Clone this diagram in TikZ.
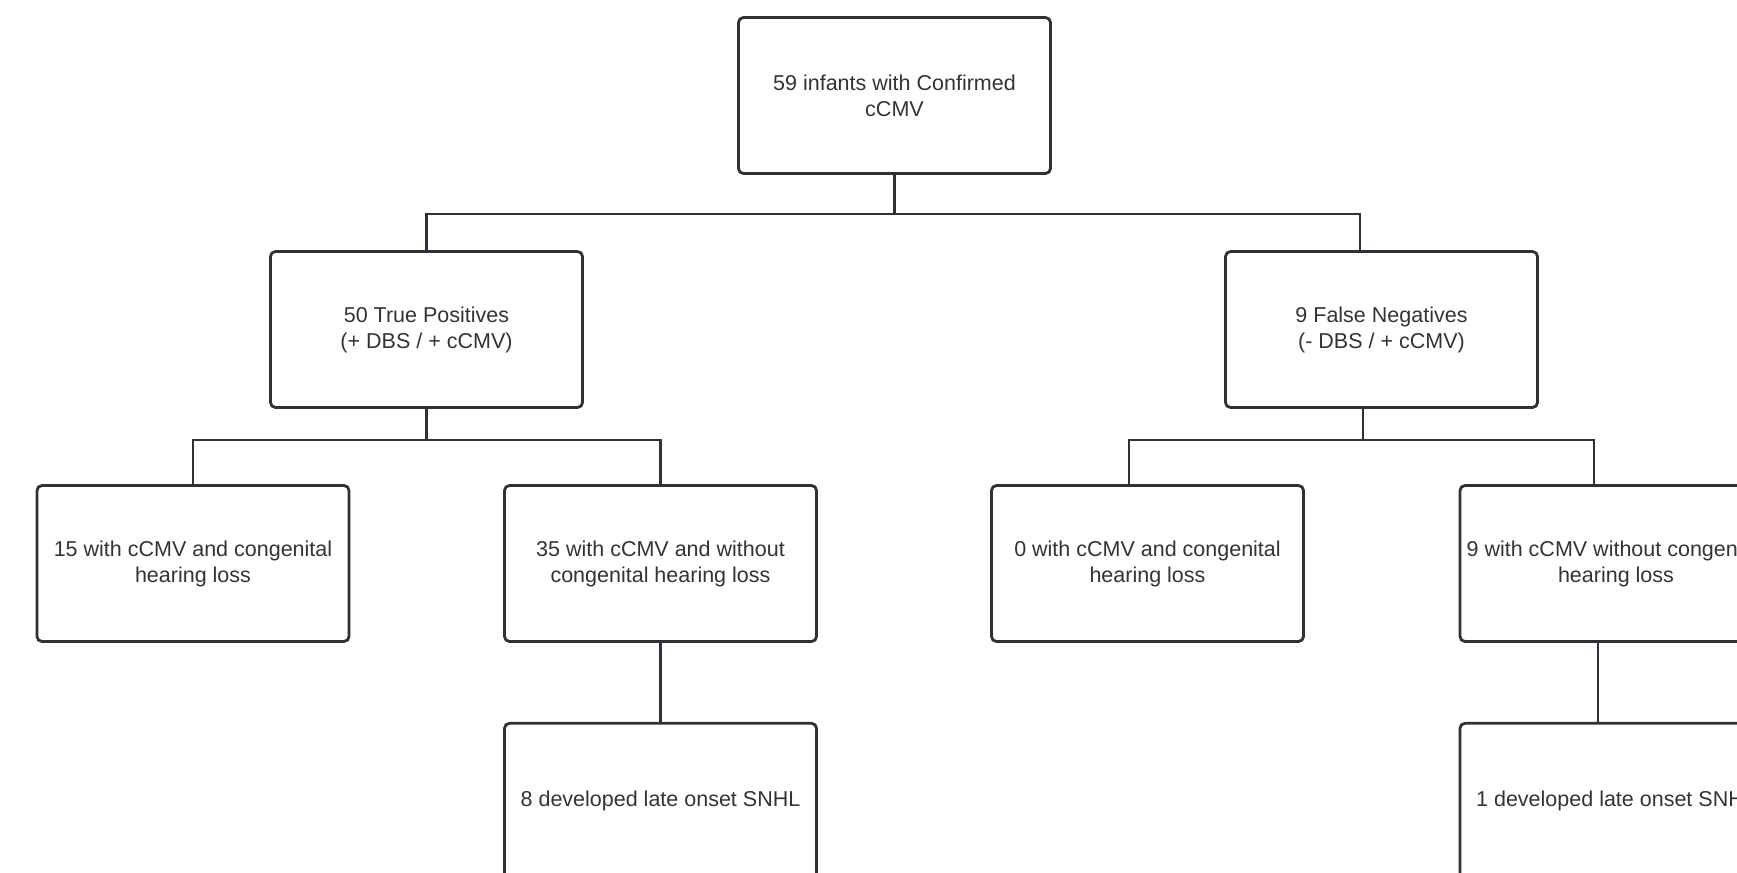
\documentclass[tikz,border=0pt]{standalone}
\usepackage{fontspec}
\setmainfont{Liberation Sans}
\usetikzlibrary{positioning}
\definecolor{cLine}{RGB}{46,49,56}
\definecolor{cText}{RGB}{51,51,51}
\tikzset{
	box/.style ={rectangle, rounded corners=2.5pt, draw=cLine, line width=1.4pt, minimum width=156pt, minimum height=78pt, align=center, text=cText, inner sep=0pt, font=\fontsize{10.75}{13}\selectfont},
	link/.style={draw=cLine, line width=1.4pt},
}
\begin{document}
\begin{tikzpicture}[x=0.5pt, y=-0.5pt]
			\useasboundingbox (0,0) rectangle (1737,873);
			% boxes
			\node[box] (root) at (894.5,95.5) {59 infants with Confirmed\\ cCMV};
			\node[box] (tp) at (426.5,329.5) {50 True Positives\\ (+ DBS / + cCMV)};
			\node[box] (fn) at (1381.5,329.5) {9 False Negatives\\ (- DBS / + cCMV)};
			\node[box] (tpA) at (193,563.5) {15 with cCMV and congenital\\ hearing loss};
			\node[box] (tpB) at (660.5,563.5) {35 with cCMV and without\\ congenital hearing loss};
			\node[box] (fnA) at (1147.5,563.5) {0 with cCMV and congenital\\ hearing loss};
			\node[box] (fnB) at (1616,563.5) {9 with cCMV without congenital\\ hearing loss};
			\node[box, below=39.5pt of tpB] (tpLate) {8 developed late onset SNHL};
			\node[box, below=39.5pt of fnB] (fnLate) {1 developed late onset SNHL};
			% connectors
			\draw[link] (root.south) -- ++(0,39) coordinate (j0);
			\draw[link] (tp.north) |- (j0) -| ([xshift=-10.75pt]fn.north);
			\draw[link] (tp.south) -- ++(0,31) coordinate (j1);
			\draw[link] (tpA.north) |- (j1) -| (tpB.north);
			\draw[link] ([xshift=-9.25pt]fn.south) -- ++(0,31) coordinate (j2);
			\draw[link] ([xshift=-9.25pt]fnA.north) |- (j2) -| ([xshift=-11pt]fnB.north);
			\draw[link] (tpB.south) -- (tpLate.north);
			\draw[link] ([xshift=-9pt]fnB.south) -- ([xshift=-9pt]fnLate.north);
		\end{tikzpicture}
\end{document}
